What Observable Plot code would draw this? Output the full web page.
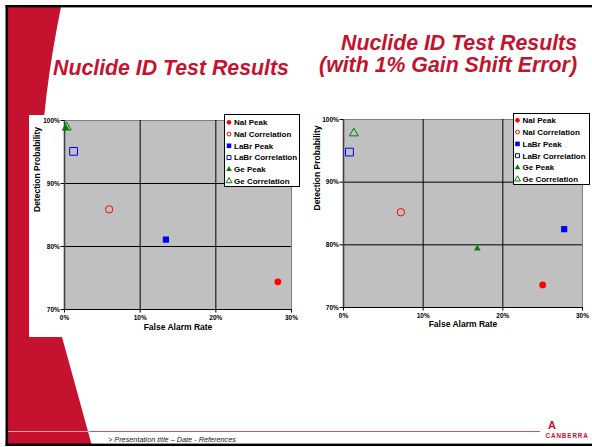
<!DOCTYPE html>
<html><head><meta charset="utf-8">
<script src="https://cdn.jsdelivr.net/npm/d3@7"></script>
<script src="https://cdn.jsdelivr.net/npm/@observablehq/plot@0.6"></script>
<style>
html,body{margin:0;padding:0;background:#fff;}
#slide{position:relative;width:592px;height:447px;overflow:hidden;background:#fff;font-family:"Liberation Sans",Arial,sans-serif;}
.abs{position:absolute;display:block;}
</style></head><body>
<div id="slide">
<svg id="deco" class="abs" style="left:0;top:0" width="592" height="447"></svg>
</div>
<script>
// ---- data ----
const series = ["NaI Peak","NaI Correlation","LaBr Peak","LaBr Correlation","Ge Peak","Ge Correlation"];
const seriesColors = ["#ff0000","#ff0000","#0000ff","#0000ff","#008000","#008000"];
const seriesSymbols = ["circle","circle","square","square","triangle","triangle"];
const seriesFilled = [true,false,true,false,true,false];
// chart 1: Nuclide ID Test Results
const falseAlarmA = [0.282,0.059,0.134,0.012,0.002,0.003];
const detectionA  = [0.744,0.859,0.811,0.951,0.988,0.989];
// chart 2: with 1% Gain Shift Error
const falseAlarmB = [0.250,0.072,0.277,0.0075,0.168,0.013];
const detectionB  = [0.736,0.852,0.825,0.948,0.794,0.978];
const xTicks = [0,0.1,0.2,0.3];
const yTicks = [0.7,0.8,0.9,1.0];
const xLabel = "False Alarm Rate";
const yLabel = "Detection Probability";
const titleA = "Nuclide ID Test Results";
const titleB = ["Nuclide ID Test Results","(with 1% Gain Shift Error)"];
const footerText = "> Presentation title \u2013 Date - References";
const brand = "CANBERRA";

const FONT = '"Liberation Sans", Arial, sans-serif';
const RED = "#c4122f";
const slide = d3.select("#slide");
const deco = d3.select("#deco");

// ---- slide decoration ----
deco.append("path").attr("d","M8,7 L61,7 C40,110 28,230 62,337 L92,446 L8,446 Z").attr("fill",RED);
deco.append("rect").attr("x",29).attr("y",115).attr("width",272).attr("height",222).attr("fill","#fff");
deco.append("rect").attr("x",5.5).attr("y",5).attr("width",586.5).attr("height",2.4).attr("fill","#000");
deco.append("rect").attr("x",5.5).attr("y",5).attr("width",2.6).attr("height",441).attr("fill","#000");
deco.append("rect").attr("x",5.5).attr("y",443.6).attr("width",586.5).attr("height",2.4).attr("fill","#000");
deco.append("line").attr("x1",8).attr("x2",90).attr("y1",431.5).attr("y2",431.5).attr("stroke","#eea0aa").attr("stroke-width",1);
deco.append("line").attr("x1",90).attr("x2",540).attr("y1",431.5).attr("y2",431.5).attr("stroke","#d85066").attr("stroke-width",1);
deco.append("text").attr("x",108).attr("y",442).attr("font-family",FONT).attr("font-style","italic").attr("font-size",7.3).attr("fill","#222").text(footerText);
deco.append("text").attr("x",552).attr("y",429).attr("text-anchor","middle").attr("font-family",FONT).attr("font-weight","bold").attr("font-size",11).attr("fill",RED).text("A");
deco.append("text").attr("x",545.5).attr("y",437.5).attr("font-family",FONT).attr("font-weight","bold").attr("font-size",6.3).attr("letter-spacing",0.9).attr("fill",RED).text(brand);
// titles
const tStyle = s => s.attr("font-family",FONT).attr("font-weight","bold").attr("font-style","italic").attr("font-size",21.3).attr("fill",RED);
deco.append("text").attr("x",53).attr("y",75).call(tStyle).text(titleA);
deco.append("text").attr("x",577).attr("y",50).attr("text-anchor","end").call(tStyle).text(titleB[0]);
deco.append("text").attr("x",577).attr("y",72).attr("text-anchor","end").call(tStyle).text(titleB[1]);

// ---- charts ----
function rFor(sym, filled){
  if (sym === "circle") return filled ? 3.4 : 3.7;
  if (sym === "square") return filled ? 3.5 : 4.4;
  return filled ? 2.5 : 3.3;
}
function makeChart(xs, ys, o){
  const rows = series.map((name,i)=>({name, x: xs[i], y: ys[i], color: seriesColors[i], symbol: seriesSymbols[i], filled: seriesFilled[i]}));
  const fmt = d3.format(".0%");
  return Plot.plot({
    width: o.width, height: o.height,
    marginLeft: o.ml, marginRight: o.mr, marginTop: o.mt, marginBottom: o.mb,
    x: {domain:[0,0.3]}, y: {domain:[0.7,1.0]},
    style: {fontFamily: FONT, color:"#000", background:"transparent", overflow:"visible"},
    marks: [
      Plot.frame({fill:"#c0c0c0", stroke:"#808080"}),
      Plot.gridX(xTicks.slice(1,-1), {stroke:"#000", strokeOpacity:1, strokeWidth:1}),
      Plot.gridY(yTicks.slice(1,-1), {stroke:"#000", strokeOpacity:1, strokeWidth:1}),
      Plot.ruleX([0], {stroke:"#404040", strokeWidth:1.6}),
      Plot.ruleY([0.7], {stroke:"#000", strokeWidth:1.2}),
      Plot.axisX(xTicks, {tickFormat: fmt, tickSize:3.5, tickPadding:2.5, fontSize:6.5, fontWeight:"bold", label:null}),
      Plot.axisY(yTicks, {tickFormat: fmt, tickSize:3.5, tickPadding:1.2, fontSize:6.5, fontWeight:"bold", label:null}),
      ...rows.map(d => Plot.dot([d], {x:"x", y:"y", symbol:d.symbol, r:rFor(d.symbol,d.filled),
          fill: d.filled ? d.color : "none", stroke: d.filled ? "none" : d.color, strokeWidth:1})),
      Plot.text([xLabel], {text:d=>d, frameAnchor:"bottom", dy:o.xdy, fontSize:8.5, fontWeight:"bold"}),
      Plot.text([yLabel], {text:d=>d, frameAnchor:"left", dx:o.ydx, dy:o.ydy, rotate:-90, fontSize:8.5, fontWeight:"bold"})
    ]
  });
}
function place(node, left, top){
  node.style.position = "absolute"; node.style.left = left+"px"; node.style.top = top+"px";
  slide.node().appendChild(node);
}
const c1 = makeChart(falseAlarmA, detectionA, {width:272, height:225, ml:35, mr:10, mt:8, mb:28, xdy:20.5, ydx:-27, ydy:-3});
place(c1, 29, 112);
const c2 = makeChart(falseAlarmB, detectionB, {width:282, height:224, ml:35, mr:8, mt:8, mb:28, xdy:19, ydx:-26, ydy:-3});
place(c2, 308, 111);

// ---- legends ----
const symMap = {circle: d3.symbolCircle, square: d3.symbolSquare, triangle: d3.symbolTriangle};
function makeLegend(left, top, w, h, first, step, mx, tx){
  const svg = slide.append("svg").attr("class","abs").style("left",left+"px").style("top",top+"px")
    .attr("width",w).attr("height",h);
  svg.append("rect").attr("x",0.5).attr("y",0.5).attr("width",w-1).attr("height",h-1).attr("fill","#fff").attr("stroke","#000");
  series.forEach((name,i)=>{
    const cy = first + i*step;
    const filled = seriesFilled[i];
    const size = seriesSymbols[i]==="circle" ? (filled?17:12) : seriesSymbols[i]==="square" ? (filled?21:16) : (filled?14:15);
    svg.append("path").attr("d", d3.symbol(symMap[seriesSymbols[i]], size)())
      .attr("transform",`translate(${mx},${cy})`)
      .attr("fill", filled ? seriesColors[i] : "none")
      .attr("stroke", filled ? "none" : seriesColors[i]).attr("stroke-width",1);
    svg.append("text").attr("x",tx).attr("y",cy).attr("dy","0.35em")
      .attr("font-family",FONT).attr("font-weight","bold").attr("font-size",8).attr("fill","#000").text(name);
  });
}
makeLegend(224, 114, 76, 73, 8.3, 11.75, 5, 10);
makeLegend(513, 113, 77, 72, 7.3, 11.8, 4.5, 9.5);
</script>
</body></html>
